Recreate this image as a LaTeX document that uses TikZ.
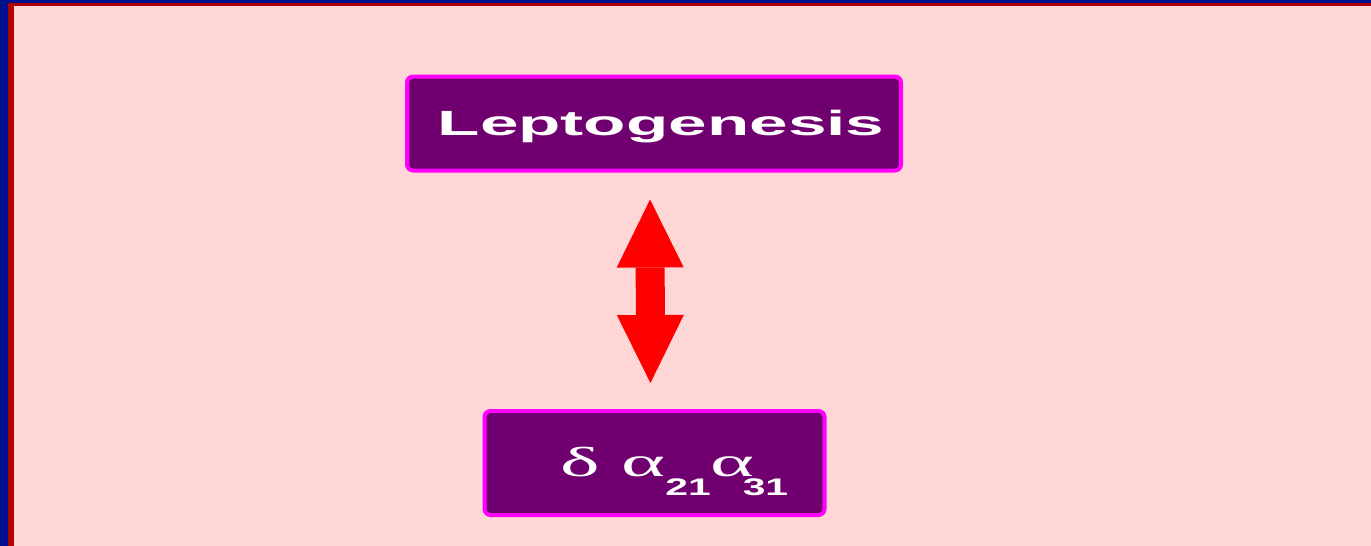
\documentclass[tikz,border=0pt]{standalone}
\usepackage{fontspec}
\usepackage{tikz}
\usetikzlibrary{
  calc,
  arrows.meta,
  positioning
}
\newfontfamily\boxfont[FakeStretch=1.98]{Liberation Sans}
\newfontfamily\greekfont[FakeStretch=2.0]{Liberation Serif}
\newfontfamily\digitfont[FakeStretch=1.7]{Liberation Sans}
\definecolor{slideblue}{RGB}{0,16,140}
\definecolor{slidered}{RGB}{176,0,0}
\definecolor{slidepink}{RGB}{255,214,214}
\definecolor{boxpurple}{RGB}{112,0,112}
\definecolor{boxedge}{RGB}{255,0,255}
\tikzset{
  termbox/.style={rectangle, draw=boxedge, line width=2pt, fill=boxpurple,
    rounded corners=3pt, inner sep=0pt, text=white, text depth=0pt},
  bigflow/.style={red, line width=14.5pt,
    {Triangle[length=34pt,width=33.5pt,line width=0pt]}-{Triangle[length=34pt,width=33.5pt,line width=0pt]}}
}

\begin{document}
\begin{tikzpicture}[x=0.5pt, y=-0.5pt]

% slide background
\useasboundingbox (0,0) rectangle (1371,546);
\fill[slideblue] (0,0) rectangle (1371,546);
\fill[slidered] (8,3) rectangle (1371,546);
\fill[slidepink] (14,6) rectangle (1371,546);

% nodes
\node[termbox, text height=11.5pt, minimum width=247pt, minimum height=47pt] (lep) at (654,123.5)
  {\boxfont\bfseries\fontsize{17.5pt}{20pt}\selectfont\hspace*{7pt}Leptogenesis};
\node[termbox, text height=13pt, minimum width=170pt, minimum height=52pt] (par) at (654.5,463)
  {\hspace*{20pt}{\greekfont\fontsize{21pt}{24pt}\selectfont δ α}%
   \raisebox{-9.5pt}{\digitfont\bfseries\fontsize{12pt}{14pt}\selectfont 21}%
   {\greekfont\fontsize{21pt}{24pt}\selectfont α}\kern-6pt%
   \raisebox{-9.5pt}{\digitfont\bfseries\fontsize{12pt}{14pt}\selectfont 31}};

% arrow
\draw[bigflow, shorten <=13.5pt, shorten >=13pt]
  ([xshift=-2pt]lep.south) -- ([xshift=-2pt]par.north);

\end{tikzpicture}
\end{document}
